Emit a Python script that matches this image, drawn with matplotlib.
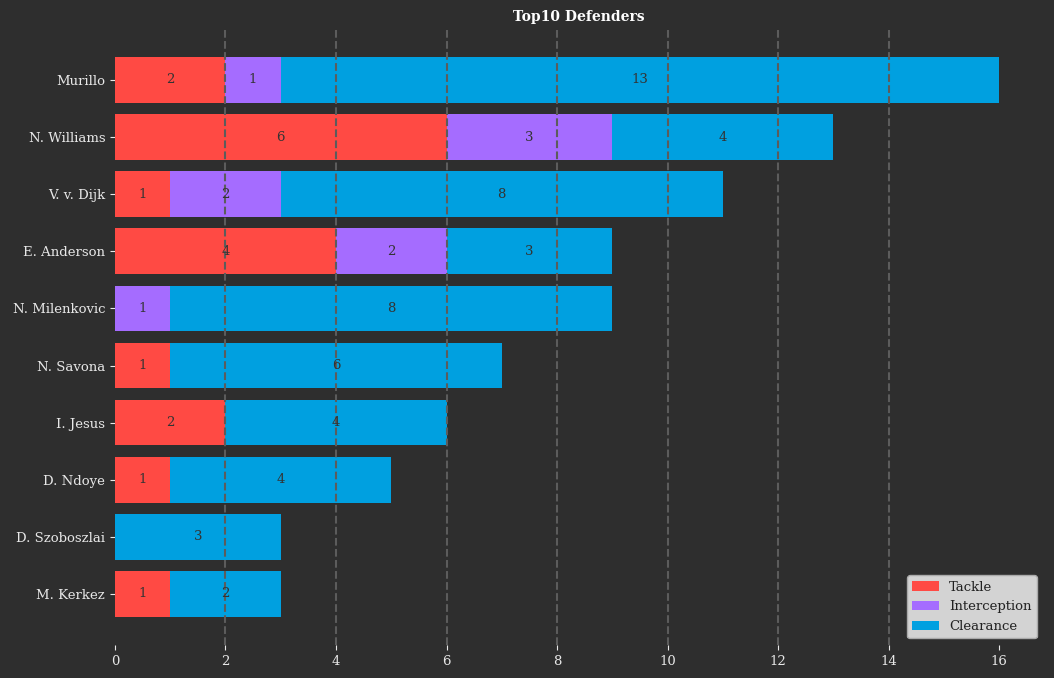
import matplotlib.pyplot as plt
import numpy as np

# Defensive actions per player
players = ['Murillo', 'N. Williams', 'V. v. Dijk', 'E. Anderson', 'N. Milenkovic',
           'N. Savona', 'I. Jesus', 'D. Ndoye', 'D. Szoboszlai', 'M. Kerkez']
tackles = [2, 6, 1, 4, 0, 1, 2, 1, 0, 1]
interceptions = [1, 3, 2, 2, 1, 0, 0, 0, 0, 0]
clearances = [13, 4, 8, 3, 8, 6, 4, 4, 3, 2]

series = ['Tackle', 'Interception', 'Clearance']
colors = ['#ff4a44', '#a56cff', '#00a0e0']

bg = '#2e2e2e'
plt.rcParams['font.family'] = ['DejaVu Serif']

fig = plt.figure(figsize=(10.54, 6.78), dpi=100, facecolor=bg)
ax = fig.add_axes([0.109, 0.049, 0.881, 0.908])
ax.set_facecolor(bg)

y = np.arange(len(players))
left = np.zeros(len(players))
for name, vals, col in zip(series, [tackles, interceptions, clearances], colors):
    vals = np.array(vals)
    bars = ax.barh(y, vals, left=left, color=col, height=0.8, label=name, zorder=2)
    labels = ax.bar_label(bars, labels=[str(v) if v > 0 else '' for v in vals],
                          label_type='center', color='#333333', fontsize=9.5)
    for t in labels:
        t.set_zorder(5)
    left += vals

ax.invert_yaxis()
ax.set_yticks(y)
ax.set_yticklabels(players)
ax.set_xticks(np.arange(0, 17, 2))

# dashed guide lines over the bars (not at the ends)
for xv in np.arange(2, 15, 2):
    ax.axvline(xv, color='#5c5c5c', linestyle='--', linewidth=1.5, zorder=3)

for s in ax.spines.values():
    s.set_visible(False)
ax.tick_params(colors='#e8e8e8', labelsize=9.5)

ax.set_title('Top10 Defenders', color='white', fontsize=10, fontweight='bold', pad=6)

leg = ax.legend(loc='lower right', facecolor='#d3d3d3', edgecolor='#aaaaaa',
                framealpha=1, fontsize=9.5)
for t in leg.get_texts():
    t.set_color('#222222')

fig.savefig('out.png', dpi=100, facecolor=bg)
